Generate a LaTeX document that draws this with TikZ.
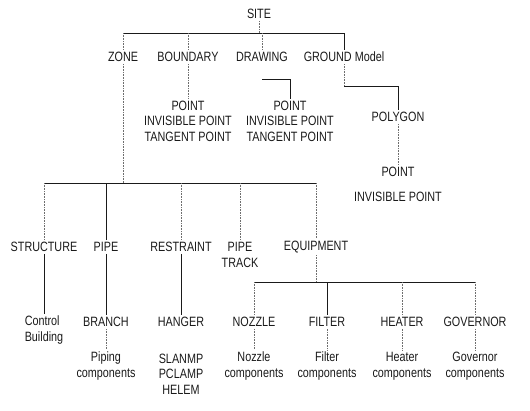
\documentclass[tikz,border=0pt]{standalone}
\usepackage{fontspec}
\setmainfont{Liberation Sans}[FakeStretch=0.8]
\usepackage{tikz}
\usetikzlibrary{positioning,calc}
\definecolor{ink}{HTML}{1A1A1A}
\definecolor{faded}{HTML}{6E6E6E}

\begin{document}
\begin{tikzpicture}[
  x=1pt,y=-1pt,
  item/.style={inner sep=2pt,align=center,text=ink,
               font=\fontsize{13.5}{15.5}\selectfont},
  link/.style={draw=ink,line width=0.6pt},
  faint/.style={draw=faded,line width=0.6pt,densely dotted}
]
\useasboundingbox (0,0) rectangle (530,410);

% top level
\node[item] (site) at (259,14) {SITE};
\node[item] (zone) at (123,57) {ZONE};
\node[item] (boundary) at (188,57) {BOUNDARY};
\node[item] (drawing) at (262,57) {DRAWING};
\node[item] (ground) at (344,57) {GROUND Model};

\node[item] (bpts) at (188,121) {POINT\\INVISIBLE POINT\\TANGENT POINT};
\node[item] (dpts) at (290,121) {POINT\\INVISIBLE POINT\\TANGENT POINT};
\node[item] (polygon) at (398,117) {POLYGON};
\node[item] (gpoint) at (398,172) {POINT};
\node[item] (ginvis) at (398,197) {INVISIBLE POINT};

% zone level
\node[item] (structure) at (44,247) {STRUCTURE};
\node[item] (pipe) at (106,247) {PIPE};
\node[item] (restraint) at (181,247) {RESTRAINT};
\node[item] (track) at (240,255) {PIPE\\TRACK};
\node[item] (equipment) at (316,247) {EQUIPMENT};

\node[item,align=left] (control) at (44,330) {Control\\Building};
\node[item] (branch) at (106,322) {BRANCH};
\node[item] (hanger) at (181,322) {HANGER};
\node[item] (nozzle) at (254,322) {NOZZLE};
\node[item] (filter) at (327,322) {FILTER};
\node[item] (heater) at (402,322) {HEATER};
\node[item] (governor) at (475,322) {GOVERNOR};

\node[item] (piping) at (106,366) {Piping\\components};
\node[item] (clamps) at (181,374) {SLANMP\\PCLAMP\\HELEM};
\node[item] (nozzlec) at (254,366) {Nozzle\\components};
\node[item] (filterc) at (327,366) {Filter\\components};
\node[item] (heaterc) at (402,366) {Heater\\components};
\node[item] (governorc) at (475,366) {Governor\\components};

\coordinate (topbar) at (0,33);
\coordinate (drbar) at (0,79);
\coordinate (grbar) at (0,86);
\coordinate (zonebar) at (0,183);
\coordinate (eqbar) at (0,282);

% site branches
\draw[faint] (site) -- (site |- topbar);
\draw[link] (zone |- topbar) -- (ground |- topbar);
\foreach \c/\s in {zone/faint,boundary/faint,drawing/faint,ground/link}
  \draw[\s] (\c |- topbar) -- (\c);

\draw[faint] (boundary) -- (bpts);
\draw[link] (drawing |- drbar) -| (dpts);
\draw[faint] (ground) -- (ground |- grbar);
\draw[link] (ground |- grbar) -| (polygon);
\draw[faint] (polygon) -- (gpoint);

% zone branches
\draw[faint] (zone) -- (zone |- zonebar);
\draw[link] (structure |- zonebar) -- (equipment |- zonebar);
\foreach \c/\s in {structure/faint,pipe/link,restraint/faint,track/faint,equipment/faint}
  \draw[\s] (\c |- zonebar) -- (\c);
\draw[link] (structure) -- (control);
\draw[link] (pipe) -- (branch);
\draw[link] (restraint) -- (hanger);

% equipment branches
\draw[faint] (equipment) -- (equipment |- eqbar);
\draw[link] (nozzle |- eqbar) -- (governor |- eqbar);
\foreach \c/\s in {nozzle/faint,filter/link,heater/faint,governor/faint}
  \draw[\s] (\c |- eqbar) -- (\c);

\draw[faint] (branch) -- (piping);
\draw[faint] (nozzle) -- (nozzlec);
\draw[faint] (filter) -- (filterc);
\draw[faint] (heater) -- (heaterc);
\draw[faint] (governor) -- (governorc);
\end{tikzpicture}
\end{document}
